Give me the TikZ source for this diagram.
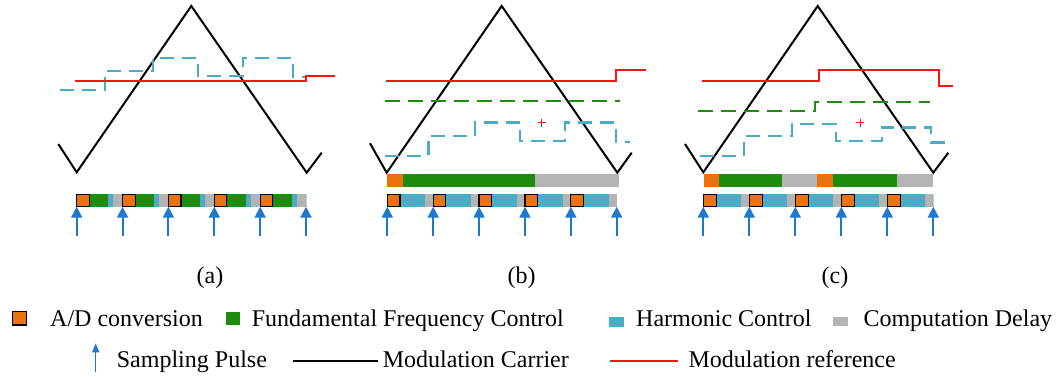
\documentclass[tikz,border=0pt]{standalone}
\usepackage{fontspec}
\setmainfont{Liberation Serif}
\usepackage{tikz}
\usetikzlibrary{arrows.meta}
\definecolor{adcolor}{RGB}{232,115,15}
\definecolor{fundcolor}{RGB}{30,140,12}
\definecolor{harmcolor}{RGB}{75,172,198}
\definecolor{delaycolor}{RGB}{180,180,180}
\definecolor{pulsecolor}{RGB}{30,120,205}
\definecolor{refcolor}{RGB}{250,20,20}

\begin{document}
\begin{tikzpicture}[x=1pt, y=-1pt,
    carrier/.style={line width=2pt, black},
    modref/.style={line width=2pt, refcolor},
    harmref/.style={line width=2.4pt, harmcolor, dash pattern=on 14pt off 8pt},
    fundref/.style={line width=2pt, fundcolor, dash pattern=on 15pt off 8pt},
    pulse/.style={line width=2pt, pulsecolor, -{Triangle[length=11pt, width=11pt]}},
    adbox/.style={fill=adcolor, draw=black, line width=1.2pt},
    lbl/.style={font=\fontsize{24}{28}\selectfont, anchor=base west, inner sep=0pt}]

    \useasboundingbox (0,0) rectangle (1062,376);

    % === (a) ===
    \draw[carrier] (58.3,144) -- (76.7,172.3) -- (191.3,6) -- (306.7,172.7) -- (321.7,152.7);
    \draw[harmref] (60,90) -- (105,90) -- (105,70.7) -- (152.7,70.7) -- (152.7,57.7) -- (197.7,57.7)
        -- (197.7,76) -- (242.7,76) -- (242.7,57.7) -- (292.7,57.7) -- (292.7,76.7) -- (306,76.7);
    \draw[modref] (75,81) -- (306,81) -- (306,76) -- (335,76);

    % Barre de calcul (a)
    \draw[harmcolor!50, line width=1pt] (76.7,194.3) rectangle (306,206.7);
    \foreach \i in {0,...,4} {
        \pgfmathsetmacro\xs{76.7+45.86*\i}
        \fill[fundcolor] (\xs+12.6,194.3) rectangle (\xs+31.6,206.7);
        \fill[harmcolor] (\xs+31.6,194.3) rectangle (\xs+36.6,206.7);
        \fill[delaycolor] (\xs+36.6,194.3) rectangle (\xs+45.86,206.7);
        \draw[adbox] (\xs,194.3) rectangle (\xs+12.6,206.7);
    }
    \foreach \i in {0,...,5}
        \draw[pulse] (76.7+45.86*\i,236) -- (76.7+45.86*\i,206.7);

    \node[font=\fontsize{24}{28}\selectfont] (laba) at (210,278) {(a)};

    % === (b) ===
    \draw[carrier] (370,143.3) -- (386.7,172.7) -- (501.7,6) -- (617.3,172.7) -- (631.7,152.7);
    \draw[modref] (385.7,81) -- (616,81) -- (616,70) -- (646,70);
    \draw[fundref] (385,100.7) -- (620,100.7);
    \draw[harmref] (385,155.7) -- (428.3,155.7) -- (428.3,135.7) -- (475,135.7) -- (475,122.3) -- (520,122.3)
        -- (520,141) -- (565,141) -- (565,122.3) -- (616,122.3) -- (616,141.7) -- (630,141.7);
    \draw[refcolor, line width=0.7pt] (537.7,122.7) -- (545.7,122.7) (541.7,118.7) -- (541.7,126.7);

    % Barre fondamentale (b)
    \fill[adcolor] (387.3,174) rectangle (402.7,186.7);
    \fill[fundcolor] (402.7,174) rectangle (534.7,186.7);
    \fill[delaycolor] (534.7,174) rectangle (619.3,186.7);

    % Barre harmonique (b)
    \draw[harmcolor!50, line width=1pt] (387.3,194.3) rectangle (616.7,206.7);
    \foreach \i in {0,...,4} {
        \pgfmathsetmacro\xs{387.3+45.88*\i}
        \fill[harmcolor] (\xs+12.7,194.3) rectangle (\xs+37.7,206.7);
        \fill[delaycolor] (\xs+37.7,194.3) rectangle (\xs+45.88,206.7);
        \draw[adbox] (\xs,194.3) rectangle (\xs+12.7,206.7);
    }
    \foreach \i in {0,...,5}
        \draw[pulse] (387.3+45.88*\i,236) -- (387.3+45.88*\i,206.7);

    \node[font=\fontsize{24}{28}\selectfont] (labb) at (521.7,278) {(b)};

    % === (c) ===
    \draw[carrier] (685,144) -- (703.3,172.3) -- (817.7,6) -- (933.3,172.7) -- (948.3,152.7);
    \draw[modref] (701.7,81) -- (819.3,81) -- (819.3,70) -- (939.3,70) -- (939.3,86) -- (952.7,86);
    \draw[fundref] (698.3,111) -- (815,111) -- (815,101.7) -- (930,101.7);
    \draw[harmref] (700,155.7) -- (744,155.7) -- (744,135.7) -- (791.7,135.7) -- (791.7,124) -- (836,124)
        -- (836,141) -- (881.7,141) -- (881.7,127.3) -- (930.7,127.3) -- (930.7,142.3) -- (946.7,142.3);
    \draw[refcolor, line width=0.7pt] (856,122.7) -- (864,122.7) (860,118.7) -- (860,126.7);

    % Barre fondamentale (c)
    \fill[adcolor] (704,174) rectangle (719.3,186.7);
    \fill[fundcolor] (719.3,174) rectangle (782.3,186.7);
    \fill[delaycolor] (782.3,174) rectangle (817.3,186.7);
    \fill[adcolor] (817.3,174) rectangle (833,186.7);
    \fill[fundcolor] (833,174) rectangle (896.7,186.7);
    \fill[delaycolor] (896.7,174) rectangle (933.3,186.7);

    % Barre harmonique (c)
    \draw[harmcolor!50, line width=1pt] (703.3,194.3) rectangle (933.3,206.7);
    \foreach \i in {0,...,4} {
        \pgfmathsetmacro\xs{703.3+46*\i}
        \fill[harmcolor] (\xs+13.4,194.3) rectangle (\xs+37.7,206.7);
        \fill[delaycolor] (\xs+37.7,194.3) rectangle (\xs+46,206.7);
        \draw[adbox] (\xs,194.3) rectangle (\xs+13.4,206.7);
    }
    \foreach \i in {0,...,5}
        \draw[pulse] (703.3+46*\i,236) -- (703.3+46*\i,206.7);

    \node[font=\fontsize{24}{28}\selectfont] (labc) at (835,278) {(c)};

    % === LÉGENDE ===
    \draw[adbox] (12.3,311.7) rectangle (26.7,325);
    \node[lbl] (legad) at (50,326) {A/D conversion};
    \fill[fundcolor] (226,311.7) rectangle (240,325);
    \node[lbl] (legfund) at (251.7,326) {Fundamental Frequency Control};
    \fill[harmcolor] (609.3,316.7) rectangle (624,326.7);
    \node[lbl] (legharm) at (636,326) {Harmonic Control};
    \fill[delaycolor] (833.3,316.7) rectangle (848.3,326);
    \node[lbl] (legdelay) at (863.3,326) {Computation Delay};

    \draw[line width=1.4pt, pulsecolor, -{Triangle[length=9pt, width=7pt]}] (95.7,371.7) -- (95.7,343.3);
    \node[lbl] (legpulse) at (116.7,367) {Sampling Pulse};
    \draw[carrier] (293.3,360.7) -- (378.3,360.7);
    \node[lbl] (legcarrier) at (382.7,367) {Modulation Carrier};
    \draw[modref] (610,360.7) -- (678.3,360.7);
    \node[lbl] (legref) at (688.3,367) {Modulation reference};

\end{tikzpicture}
\end{document}
